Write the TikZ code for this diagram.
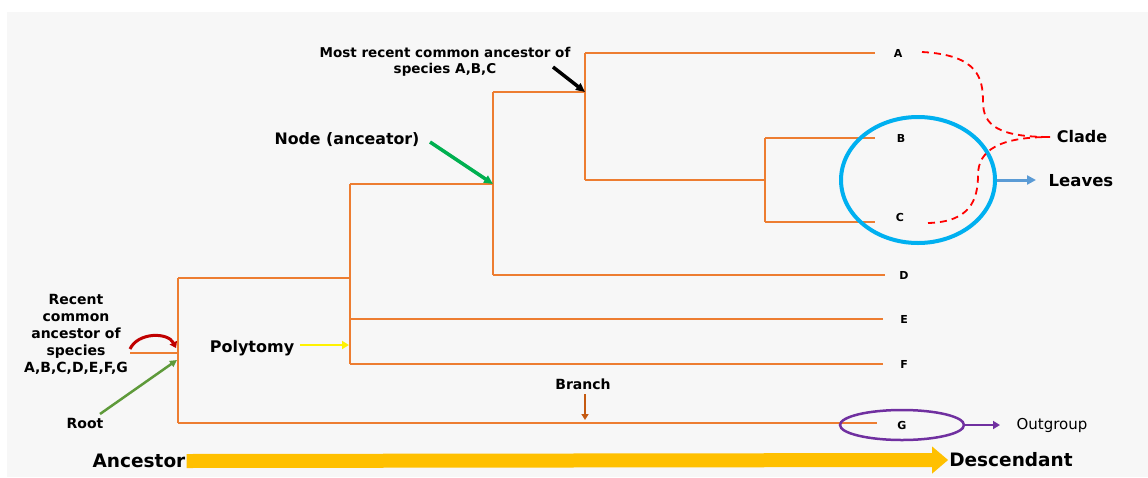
\documentclass[tikz,border=0pt]{standalone}
\usepackage{fontspec}
\setmainfont{DejaVu Sans}
\usetikzlibrary{arrows.meta,shapes.geometric}
\definecolor{bg}{HTML}{F7F7F7}
\definecolor{tree}{HTML}{ED7D31}
\definecolor{cblue}{HTML}{00B0F0}
\definecolor{lblue}{HTML}{5B9BD5}
\definecolor{cpurple}{HTML}{7030A0}
\definecolor{cyellow}{HTML}{FFC000}
\definecolor{cgreen}{HTML}{00B050}
\definecolor{olive}{HTML}{5E9A3A}
\definecolor{brown}{HTML}{C55A11}
\definecolor{dred}{HTML}{C00000}
\tikzset{
  br/.style={draw=tree, line width=1.8pt},
  leaf/.style={font=\bfseries\fontsize{11}{12}\selectfont, inner sep=1pt},
  lab/.style={font=\bfseries\fontsize{#1}{#1}\selectfont, inner sep=1pt, align=center},
  callout/.style={-{Triangle[length=9pt,width=8pt]}, line width=3.5pt},
}
\begin{document}
\begin{tikzpicture}[x=1pt,y=-1pt]
\useasboundingbox (0,0) rectangle (1148,477);
\fill[bg] (7,12) rectangle (1148,477);
% tree coordinates
\coordinate (r0) at (130,353);
\coordinate (r1) at (178,353);
\coordinate (rt) at (178,278);
\coordinate (rb) at (178,423);
\coordinate (p1) at (350,278);
\coordinate (p1t) at (350,184);
\coordinate (p1b) at (350,364);
\coordinate (pE) at (350,319);
\coordinate (n1) at (493,184);
\coordinate (n1t) at (493,92);
\coordinate (n1b) at (493,275);
\coordinate (m1) at (585,92);
\coordinate (m1t) at (585,53);
\coordinate (m1b) at (585,180);
\coordinate (bc) at (765,180);
\coordinate (bct) at (765,138);
\coordinate (bcb) at (765,222);
% leaf labels
\node[leaf] (A) at (898,53) {A};
\node[leaf] (B) at (901,138) {B};
\node[leaf] (C) at (900,217) {C};
\node[leaf] (D) at (904,275) {D};
\node[leaf] (E) at (904,319) {E};
\node[leaf] (F) at (904,364) {F};
\node[leaf] (G) at (902,425) {G};
% branches
\draw[br] (r0) -- (r1);
\draw[br] (rt) -- (rb);
\draw[br] (rt) -- (p1);
\draw[br] (p1t) -- (p1b);
\draw[br] (p1t) -- (n1);
\draw[br] (n1t) -- (n1b);
\draw[br] (n1t) -- (m1);
\draw[br] (m1t) -- (m1b);
\draw[br] (m1t) -- (875,53);
\draw[br] (m1b) -- (bc);
\draw[br] (bct) -- (bcb);
\draw[br] (bct) -- (875,138);
\draw[br] (bcb) -- (875,222);
\draw[br] (n1b) -- (885,275);
\draw[br] (pE) -- (883,319);
\draw[br] (p1b) -- (883,364);
\draw[br] (rb) -- (877,423);
% blue circle and leaves
\node[draw=cblue, line width=4pt, ellipse, minimum width=154pt, minimum height=126pt, inner sep=0pt] (circ) at (918,180) {};
\node[lab=16.5] (leaves) at (1081,181) {Leaves};
\draw[lblue, line width=3pt, -{Triangle[length=9pt,width=9pt]}] (circ.east) -- (1036,180);
% clade
\node[lab=16] (clade) at (1082,137) {Clade};
\coordinate (cl) at (1050,137);
\draw[red, line width=1.8pt, dash pattern=on 7pt off 5pt] (922,52) .. controls (978,55) and (983,78) .. (983,102) .. controls (983,125) and (998,137) .. (cl);
\draw[red, line width=1.8pt, dash pattern=on 7pt off 5pt] (928,223) .. controls (970,222) and (978,200) .. (978,175) .. controls (978,150) and (1000,137) .. (cl);
% outgroup
\node[draw=cpurple, line width=2.5pt, ellipse, minimum width=124pt, minimum height=30pt, inner sep=0pt] (og) at (902,425) {};
\node[font=\fontsize{15}{15}\selectfont, inner sep=1pt] (out) at (1052,425) {Outgroup};
\draw[cpurple, line width=2.5pt, -{Triangle[length=7pt,width=8pt]}] (og.east) -- (1000,425);
% bottom arrow
\node[lab=18.5] (anc) at (139,461) {Ancestor};
\node[lab=18.5] (desc) at (1011,460) {Descendant};
\draw[cyellow, line width=14pt, -{Triangle[length=16pt,width=26pt]}] (anc.east) -- (desc.west);
% branch label
\node[lab=14] (branch) at (583,384) {Branch};
\draw[brown, line width=2.2pt, -{Triangle[length=6pt,width=7pt]}] (585,394) -- (585,420);
% polytomy
\node[lab=16] (poly) at (252,348) {Polytomy};
\draw[yellow, line width=2.5pt, -{Triangle[length=7pt,width=8pt]}] (300,345) -- (349,345);
% node (ancestor)
\node[lab=15.8] (nodeL) at (347,140) {Node (anceator)};
\draw[cgreen, callout] (430,142) -- (n1);
% MRCA ABC
\node[lab=13.5, align=center] (mrca) at (445,62) {Most recent common ancestor of\\[2pt]species A,B,C};
\draw[black, callout] (553,67) -- (m1);
% root
\node[lab=14, align=center] (rca) at (76,334) {Recent\\[3pt]common\\[3pt]ancestor of\\[3pt]species\\[3pt]A,B,C,D,E,F,G};
\draw[dred, line width=3pt, -{Triangle[length=6pt,width=8pt]}] (130,349) .. controls (138,332) and (168,332) .. (176,348);
\node[lab=14] (root) at (85,423) {Root};
\draw[olive, line width=2.5pt, -{Triangle[length=7pt,width=7pt]}] (100,414) -- (177,360);
\end{tikzpicture}
\end{document}
